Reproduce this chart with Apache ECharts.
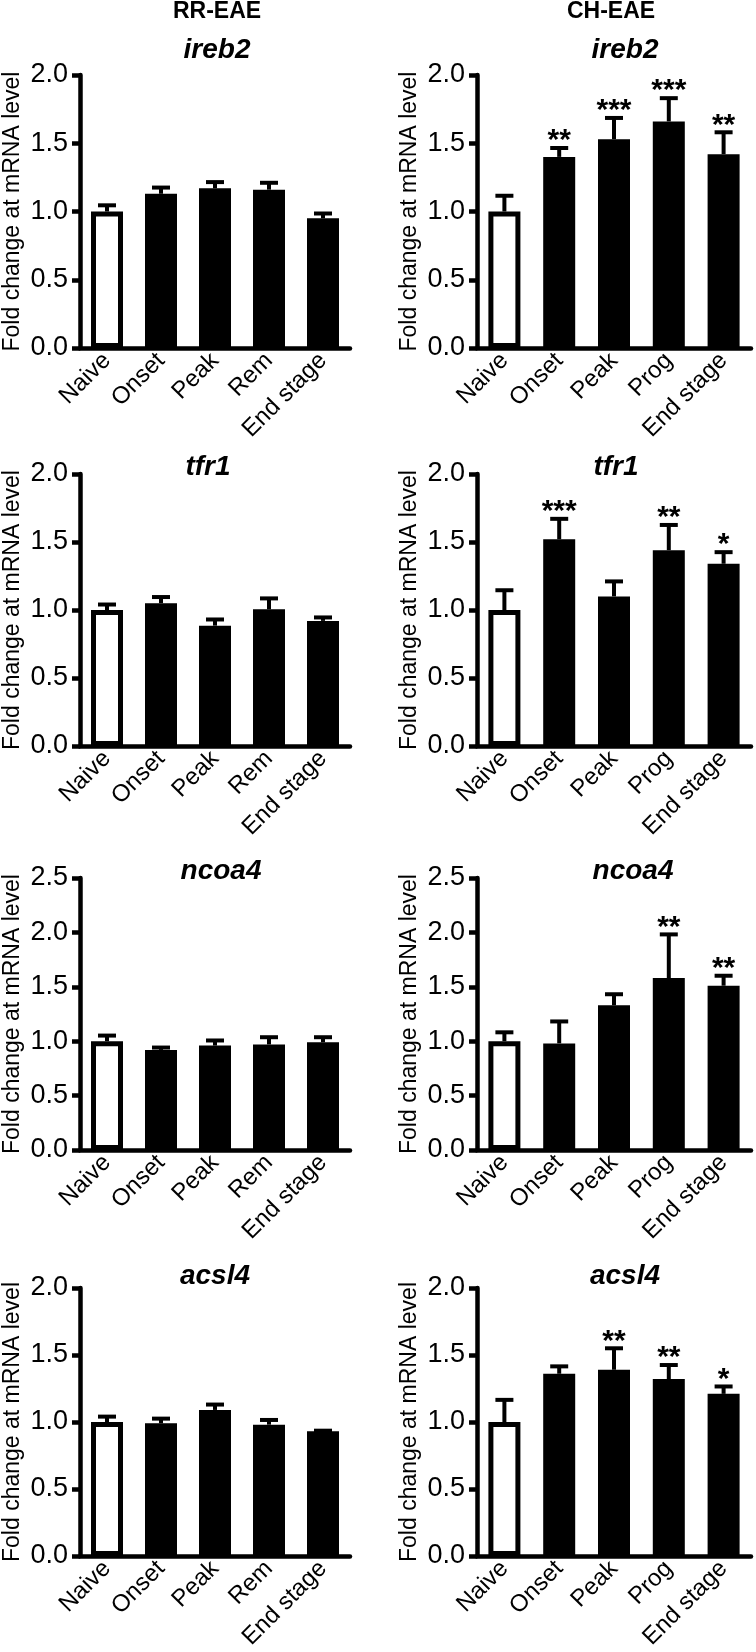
<!DOCTYPE html>
<html>
<head>
<meta charset="utf-8">
<script src="https://cdn.jsdelivr.net/npm/echarts@6/dist/echarts.min.js"></script>
<style>
html,body{margin:0;padding:0;background:#fff;}
#chart{width:756px;height:1652px;}
</style>
</head>
<body>
<div id="chart"></div>
<script>
// ---- data ----
const catsRR = ['Naive', 'Onset', 'Peak', 'Rem', 'End stage'];
const catsCH = ['Naive', 'Onset', 'Peak', 'Prog', 'End stage'];
const genes = ['ireb2', 'tfr1', 'ncoa4', 'acsl4'];
const yMaxByGene = [2.0, 2.0, 2.5, 2.0];
const yInterval = 0.5;

const rrIreb2 = [1.00, 1.13, 1.17, 1.16, 0.95];
const rrIreb2Err = [0.06, 0.06, 0.06, 0.065, 0.05];
const chIreb2 = [1.00, 1.40, 1.53, 1.66, 1.42];
const chIreb2Err = [0.13, 0.08, 0.17, 0.185, 0.175];
const chIreb2Sig = ['', '**', '***', '***', '**'];

const rrTfr1 = [1.00, 1.05, 0.885, 1.005, 0.92];
const rrTfr1Err = [0.055, 0.06, 0.06, 0.095, 0.04];
const chTfr1 = [1.00, 1.52, 1.10, 1.44, 1.34];
const chTfr1Err = [0.16, 0.165, 0.125, 0.20, 0.10];
const chTfr1Sig = ['', '***', '', '**', '*'];

const rrNcoa4 = [1.00, 0.92, 0.96, 0.97, 0.99];
const rrNcoa4Err = [0.07, 0.04, 0.065, 0.085, 0.065];
const chNcoa4 = [1.00, 0.98, 1.33, 1.58, 1.51];
const chNcoa4Err = [0.10, 0.22, 0.12, 0.42, 0.11];
const chNcoa4Sig = ['', '', '', '**', '**'];

const rrAcsl4 = [1.00, 0.99, 1.09, 0.98, 0.93];
const rrAcsl4Err = [0.055, 0.05, 0.055, 0.05, 0.02];
const chAcsl4 = [1.00, 1.36, 1.39, 1.32, 1.21];
const chAcsl4Err = [0.18, 0.07, 0.175, 0.12, 0.07];
const chAcsl4Sig = ['', '', '**', '**', '*'];

const noSig = ['', '', '', '', ''];

// ---- layout ----
const FONT = '"Liberation Sans", Arial, Helvetica, sans-serif';
const colLeft = [76, 477];
const colWidth = 274;
const rowTop = [75, 474, 878, 1288];
const rowHeight = [273, 272, 272, 274];
const titlePos = [
  [[217, 50], [625, 50]],
  [[208, 467], [616, 467]],
  [[221, 871], [633, 871]],
  [[215, 1276], [625, 1276]]
];

const panels = [
  {gene: 0, col: 0, cats: catsRR, mean: rrIreb2, err: rrIreb2Err, sig: noSig},
  {gene: 0, col: 1, cats: catsCH, mean: chIreb2, err: chIreb2Err, sig: chIreb2Sig},
  {gene: 1, col: 0, cats: catsRR, mean: rrTfr1, err: rrTfr1Err, sig: noSig},
  {gene: 1, col: 1, cats: catsCH, mean: chTfr1, err: chTfr1Err, sig: chTfr1Sig},
  {gene: 2, col: 0, cats: catsRR, mean: rrNcoa4, err: rrNcoa4Err, sig: noSig},
  {gene: 2, col: 1, cats: catsCH, mean: chNcoa4, err: chNcoa4Err, sig: chNcoa4Sig},
  {gene: 3, col: 0, cats: catsRR, mean: rrAcsl4, err: rrAcsl4Err, sig: noSig},
  {gene: 3, col: 1, cats: catsCH, mean: chAcsl4, err: chAcsl4Err, sig: chAcsl4Sig}
];

const grids = [], xAxes = [], yAxes = [], series = [], graphics = [];
const AXW = 4.5;

graphics.push({type: 'text', x: 217, y: 12, style: {text: 'RR-EAE', font: 'bold 23px ' + FONT, fill: '#000', align: 'center', verticalAlign: 'middle'}});
graphics.push({type: 'text', x: 611, y: 12, style: {text: 'CH-EAE', font: 'bold 23px ' + FONT, fill: '#000', align: 'center', verticalAlign: 'middle'}});

panels.forEach((p, k) => {
  grids.push({left: colLeft[p.col], top: rowTop[p.gene], width: colWidth, height: rowHeight[p.gene], containLabel: false});
  xAxes.push({
    type: 'category', gridIndex: k, data: p.cats,
    axisLine: {lineStyle: {color: '#000', width: AXW}},
    axisTick: {show: false},
    axisLabel: {rotate: 45, interval: 0, fontSize: 24, fontFamily: FONT, color: '#000', margin: 9}
  });
  yAxes.push({
    type: 'value', gridIndex: k, min: 0, max: yMaxByGene[p.gene], interval: yInterval,
    axisLine: {show: true, lineStyle: {color: '#000', width: AXW}},
    axisTick: {show: true, length: 8, lineStyle: {color: '#000', width: AXW}},
    splitLine: {show: false},
    axisLabel: {fontSize: 27, fontFamily: FONT, color: '#000', margin: 12, formatter: v => v.toFixed(1)},
    name: 'Fold change at mRNA level', nameLocation: 'middle', nameGap: 56,
    nameTextStyle: {fontSize: 23, fontFamily: FONT, color: '#000'}
  });
  const pos = titlePos[p.gene][p.col];
  graphics.push({type: 'text', x: pos[0], y: pos[1], style: {text: genes[p.gene], font: 'italic bold 28px ' + FONT, fill: '#000', align: 'center', verticalAlign: 'middle'}});

  series.push({
    type: 'bar', xAxisIndex: k, yAxisIndex: k, barWidth: 32, z: 2,
    data: p.mean.map((v, i) => ({
      value: v,
      itemStyle: i === 0 ? {color: '#fff', borderColor: '#000', borderWidth: 5} : {color: '#000', borderColor: '#000', borderWidth: 5}
    })),
    silent: true, animation: false
  });
  const sig = p.sig;
  series.push({
    type: 'custom', xAxisIndex: k, yAxisIndex: k, z: 4, silent: true, animation: false,
    data: p.mean.map((v, i) => [i, v, p.err[i]]),
    renderItem: (params, api) => {
      const i = api.value(0), m = api.value(1), e = api.value(2);
      const p0 = api.coord([i, m]);
      const p1 = api.coord([i, m + e]);
      const children = [
        {type: 'line', shape: {x1: p0[0], y1: p0[1], x2: p1[0], y2: p1[1] + 2}, style: {stroke: '#000', lineWidth: 4}},
        {type: 'line', shape: {x1: p1[0] - 9, y1: p1[1] + 2, x2: p1[0] + 9, y2: p1[1] + 2}, style: {stroke: '#000', lineWidth: 4}}
      ];
      const s = sig[params.dataIndex];
      if (s) {
        children.push({type: 'text', x: p1[0], y: p1[1] - 5, style: {text: s, font: 'bold 30px ' + FONT, fill: '#000', align: 'center', verticalAlign: 'middle'}});
      }
      return {type: 'group', children};
    }
  });
});

const chart = echarts.init(document.getElementById('chart'), null, {renderer: 'canvas'});
chart.setOption({
  animation: false,
  backgroundColor: '#fff',
  grid: grids, xAxis: xAxes, yAxis: yAxes, series: series,
  graphic: graphics
});
</script>
</body>
</html>
